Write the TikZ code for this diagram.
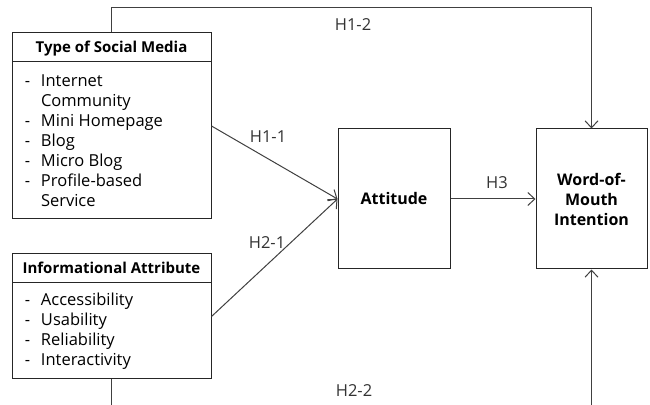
\documentclass[tikz,border=0pt]{standalone}
\usepackage{fontspec}
\setmainfont{Open Sans}
\usetikzlibrary{arrows.meta,shapes.multipart}
\newcommand{\diagfont}{\fontsize{16.5}{20}\selectfont}
\newcommand{\itm}[1]{\makebox[16pt][l]{-}#1}
\newcommand{\cont}[1]{\hspace*{16pt}#1}
\newcommand{\headline}[1]{\makebox[199pt]{\rule[-9pt]{0pt}{28pt}%
  \fontsize{15}{20}\selectfont\bfseries #1}}
\tikzset{
  catbox/.style = {rectangle split, rectangle split parts=2, draw=black!85,
    line width=1pt, inner sep=0pt},% factor box, title over list
  varbox/.style = {rectangle, draw=black!85, line width=1pt, align=center,
    minimum width=112pt, minimum height=140pt, inner sep=0pt,
    font=\fontsize{16}{20}\selectfont\bfseries},% variable box
  hyp/.style = {inner sep=0pt, text=black!80}% hypothesis label
}

\begin{document}
\begin{tikzpicture}[x=1pt,y=1pt,->,>={Straight Barb[length=7pt,width=13pt]},
    every node/.append style={font=\diagfont}]
  \useasboundingbox (0,0) rectangle (650,404);
  \clip (0,0) rectangle (650,404);
  \node [catbox] (tsm) at (111.5,278) {\headline{Type of Social Media}
    \nodepart{two}\parbox[c][156pt][c]{199pt}{\leftskip=13pt
      \itm{Internet}\\ \cont{Community}\\ \itm{Mini Homepage}\\ \itm{Blog}\\
      \itm{Micro Blog}\\ \itm{Profile-based}\\ \cont{Service}}};
  \node [catbox] (ia) at (111.5,87.5) {\headline{Informational Attribute}
    \nodepart{two}\parbox[c][95pt][c]{199pt}{\leftskip=13pt
      \itm{Accessibility}\\ \itm{Usability}\\ \itm{Reliability}\\
      \itm{Interactivity}}};
  \node [varbox] (att) at (394,205) {Attitude};
  \node [varbox, minimum width=111pt] (wom) at (591.5,205) {Word-of-\\Mouth\\Intention};

  \node [hyp] (h11) at (268,267) {H1-1};
  \node [hyp] (h21) at (267,161) {H2-1};
  \node [hyp] (h3) at (497,221) {H3};
  \node [hyp] (h12) at (353,379) {H1-2};
  \node [hyp] (h22) at (354,13) {H2-2};

  \begin{scope}[line width=1pt, draw=black!75]
    \foreach \from in {tsm,ia}
      \draw (\from.east) -- (att.west);
    \draw (att.east) -- (wom.west);
    \draw (tsm.north) -- ++(0,25) -| (wom.north);
    \draw (ia.south) -- ++(0,-40) -| (wom.south);
  \end{scope}
\end{tikzpicture}
\end{document}
